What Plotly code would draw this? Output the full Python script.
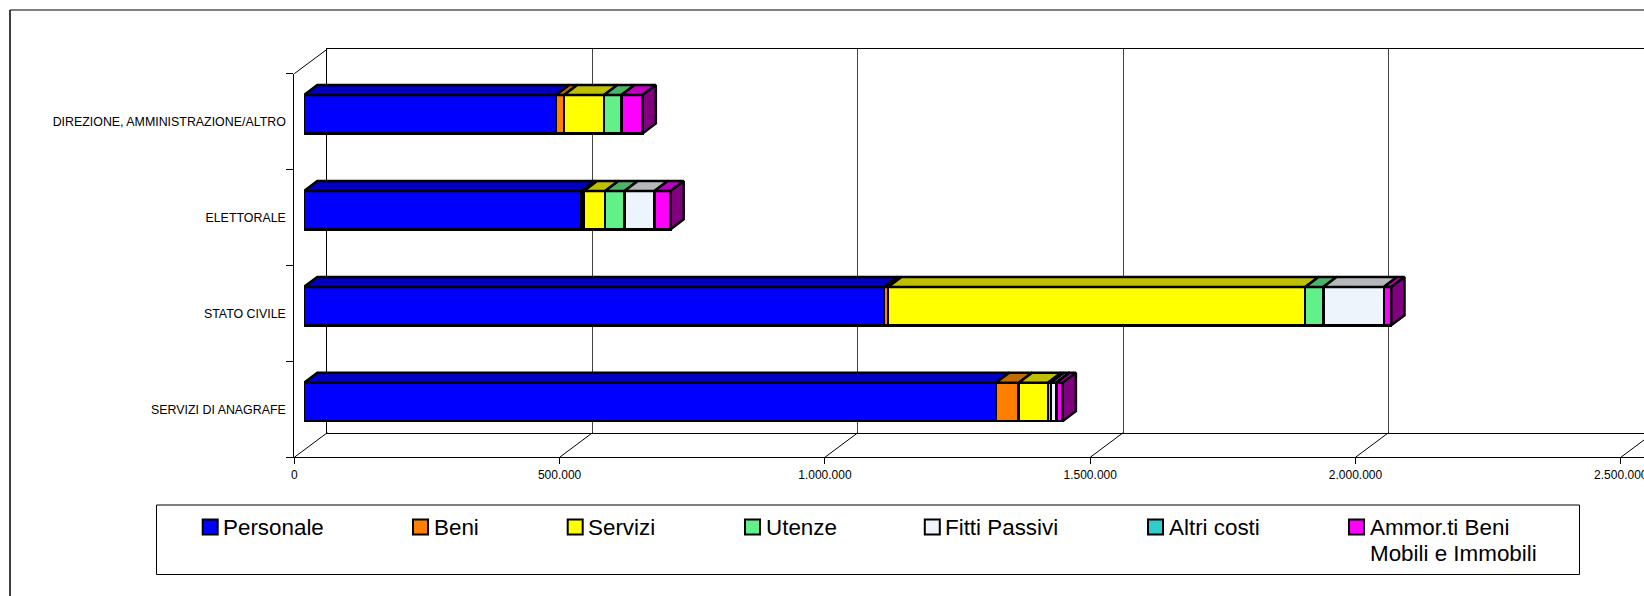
import plotly.graph_objects as go

categories = ["SERVIZI DI ANAGRAFE", "STATO CIVILE", "ELETTORALE", "DIREZIONE, AMMINISTRAZIONE/ALTRO"]
series_names = ["Personale", "Beni", "Servizi", "Utenze", "Fitti Passivi", "Altri costi", "Ammor.ti Beni<br>Mobili e Immobili"]

personale = [1304000, 1093000, 523000, 475000]
beni = [43000, 8000, 4500, 15000]
servizi = [55000, 786000, 40000, 75500]
utenze = [5500, 34000, 36500, 32500]
fitti = [9500, 114000, 56500, 0]
altri = [1200, 0, 0, 0]
ammor = [11500, 14000, 30000, 40000]
all_series = [personale, beni, servizi, utenze, fitti, altri, ammor]

x_ticks = [0, 500000, 1000000, 1500000, 2000000, 2500000]

face_colors = ["#0000FF", "#FF8000", "#FFFF00", "#62F088", "#EEF4FC", "#33CCCC", "#FF00FF"]
top_colors = ["#0000BE", "#C06C00", "#BFBF00", "#4CB468", "#B4B8BA", "#269999", "#C000C0"]
side_color = "#800080"

W, H = 1644, 596
units_per_px = 500000 / 265.3
row_px = 95.9
font = "Liberation Sans, Arial, sans-serif"

# the 3d look: wall, front plane and bars are three subplots shifted in pixels
wall = dict(left=327.3, bottom=432.7)
front = dict(left=294.3, bottom=457.3)
bars = dict(left=304.0, bottom=449.95)

def x_dom(p):
    return [p["left"] / W, 1]

def y_dom(p):
    return [(H - p["bottom"]) / H, (H - p["bottom"] + 4 * row_px) / H]

def x_rng(p):
    return [0, (W - p["left"]) * units_per_px]

def px(x):
    return x / W

def py(y):
    return 1 - y / H

fig = go.Figure()

# empty trace so the back wall subplot gets drawn
fig.add_trace(go.Scatter(x=x_ticks, y=[0] * len(x_ticks), mode="none", xaxis="x", yaxis="y",
                         showlegend=False, hoverinfo="skip"))
# same for the front plane
fig.add_trace(go.Scatter(x=x_ticks, y=[0] * len(x_ticks), mode="none", xaxis="x2", yaxis="y2",
                         showlegend=False, hoverinfo="skip"))

# bars
bar_w = 0.4
pos = [0.5, 1.5, 2.5, 3.5]
depth_x = 13.3 * units_per_px
depth_y = 10 / row_px

for name, vals, col in zip(series_names, all_series, face_colors):
    fig.add_trace(go.Bar(y=pos, x=vals, name=name, orientation="h", width=bar_w,
                         marker=dict(color=col, line=dict(color="black", width=2.5)),
                         xaxis="x3", yaxis="y3", showlegend=False, hoverinfo="skip"))

# top faces, one trace per series
start = [0, 0, 0, 0]
for vals, col in zip(all_series, top_colors):
    xs, ys = [], []
    for i in range(4):
        if vals[i] > 0:
            a = start[i]
            b = a + vals[i]
            yt = pos[i] + bar_w / 2
            xs += [a, b, b + depth_x, a + depth_x, a, None]
            ys += [yt, yt, yt + depth_y, yt + depth_y, yt, None]
        start[i] += vals[i]
    fig.add_trace(go.Scatter(x=xs, y=ys, mode="lines", fill="toself", fillcolor=col,
                             line=dict(color="black", width=2.5), xaxis="x3", yaxis="y3",
                             showlegend=False, hoverinfo="skip"))

# right end of each bar
xs, ys = [], []
for i in range(4):
    e = start[i]
    yt = pos[i] + bar_w / 2
    yb = pos[i] - bar_w / 2
    xs += [e, e + depth_x, e + depth_x, e, e, None]
    ys += [yb, yb + depth_y, yt + depth_y, yt, yb, None]
fig.add_trace(go.Scatter(x=xs, y=ys, mode="lines", fill="toself", fillcolor=side_color,
                         line=dict(color="black", width=2.5), xaxis="x3", yaxis="y3",
                         showlegend=False, hoverinfo="skip"))

fig.update_layout(
    width=W, height=H,
    margin=dict(l=0, r=0, t=0, b=0),
    paper_bgcolor="white", plot_bgcolor="rgba(0,0,0,0)",
    barmode="stack",
    separators=",.",
    font=dict(family=font, size=12, color="black"),
    showlegend=False,
    # back wall
    xaxis=dict(domain=x_dom(wall), range=x_rng(wall), anchor="y", tickvals=x_ticks, automargin=False,
               showgrid=True, gridcolor="#444444", gridwidth=1, zeroline=False,
               showline=True, mirror=True, linecolor="black", linewidth=1,
               showticklabels=False, ticks=""),
    yaxis=dict(domain=y_dom(wall), range=[0, 4], anchor="x", showgrid=False, zeroline=False, automargin=False,
               showline=True, linecolor="black", linewidth=1, showticklabels=False, ticks=""),
    # front plane with the labels
    xaxis2=dict(domain=x_dom(front), range=x_rng(front), anchor="y2", tickvals=x_ticks, automargin=False,
                tickformat=",d", showgrid=False, zeroline=False, showline=True,
                linecolor="black", linewidth=1, ticks="outside", ticklen=6, ticklabeloverflow="allow",
                tickcolor="black", tickfont=dict(size=12)),
    yaxis2=dict(domain=y_dom(front), range=[0, 4], anchor="x2", tickvals=pos, ticktext=categories, automargin=False,
                showgrid=False, zeroline=False, showline=True, linecolor="black", linewidth=1,
                ticks="outside", ticklen=5, tickcolor="rgba(0,0,0,0)", tickfont=dict(size=12.4),
                minor=dict(tickvals=[0, 1, 2, 3, 4], ticks="outside", ticklen=7, tickcolor="black")),
    # bars
    xaxis3=dict(domain=x_dom(bars), range=x_rng(bars), anchor="y3", visible=False, automargin=False),
    yaxis3=dict(domain=y_dom(bars), range=[0, 4], anchor="x3", visible=False, automargin=False),
)

# floor diagonals, plus the one at the top of the side wall
wall_dx = wall["left"] - front["left"]
wall_dy = front["bottom"] - wall["bottom"]
for t in x_ticks:
    x0 = front["left"] + t / units_per_px
    fig.add_shape(type="line", xref="paper", yref="paper", x0=px(x0), x1=px(x0 + wall_dx),
                  y0=py(front["bottom"]), y1=py(wall["bottom"]), line=dict(color="black", width=1))
top_y = front["bottom"] - 4 * row_px
fig.add_shape(type="line", xref="paper", yref="paper", x0=px(front["left"]), x1=px(wall["left"]),
              y0=py(top_y), y1=py(top_y - wall_dy), line=dict(color="black", width=1))

# outer frame, only left and top are in the page
fig.add_shape(type="line", xref="paper", yref="paper", x0=px(10), x1=px(10), y0=0, y1=py(10),
              line=dict(color="black", width=1.5))
fig.add_shape(type="line", xref="paper", yref="paper", x0=px(10), x1=1, y0=py(10), y1=py(10),
              line=dict(color="black", width=1))

# legend box
fig.add_shape(type="rect", xref="paper", yref="paper", x0=px(156.5), x1=px(1579.5), y0=py(574.5), y1=py(505),
              line=dict(color="black", width=1), fillcolor="white")

legend_x = [202.7, 413, 567.7, 745, 924.8, 1148, 1349]
for name, col, lx in zip(series_names, face_colors, legend_x):
    fig.add_shape(type="rect", xref="paper", yref="paper", x0=px(lx), x1=px(lx + 15), y0=py(534.5), y1=py(519.5),
                  line=dict(color="black", width=2), fillcolor=col)
    for n, line in enumerate(name.split("<br>")):
        fig.add_annotation(xref="paper", yref="paper", x=px(lx + 18.5), y=py(527 + 26 * n), text=line,
                           showarrow=False, xanchor="left", yanchor="middle",
                           font=dict(family=font, size=22.4, color="black"))

# page margin would push everything off by 8px
fig.write_html("out.html", config={"displayModeBar": False},
               post_script="document.body.style.margin='0';document.documentElement.style.overflow='hidden';")
